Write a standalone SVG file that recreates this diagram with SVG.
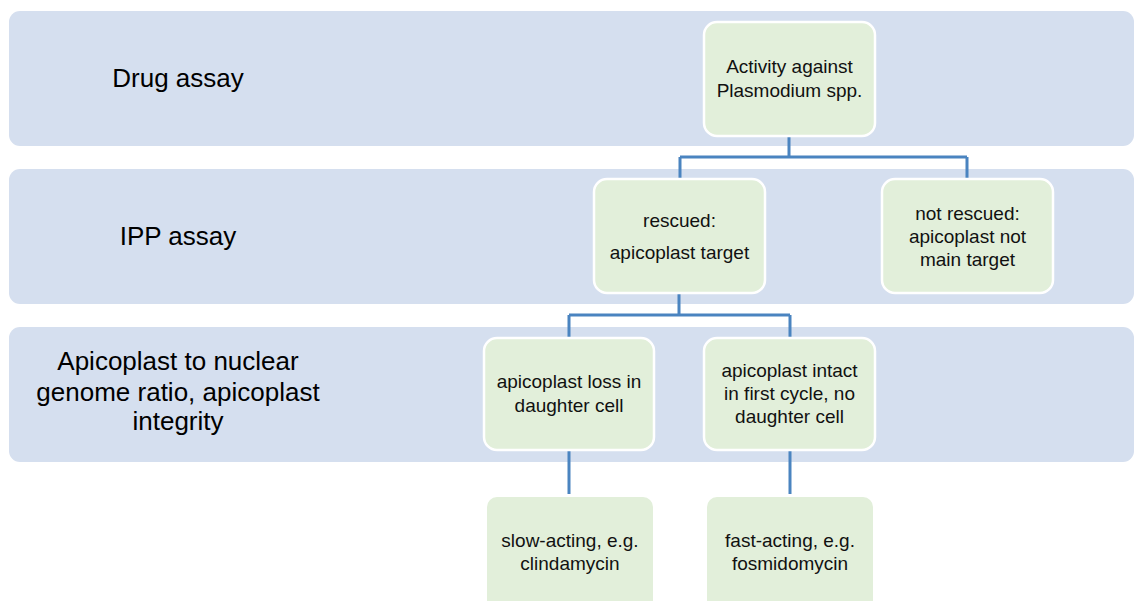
<svg xmlns="http://www.w3.org/2000/svg" width="1135" height="601" viewBox="0 0 1135 601">
<style>
.band{fill:#D5DFEF}
.node{fill:#E2EFDA;stroke:#FFFFFF;stroke-width:2.5}
.leaf{fill:#E2EFDA}
.lbl{font-family:"Liberation Sans",Arial,sans-serif;font-size:26px;fill:#000;text-anchor:middle}
.t{font-family:"Liberation Sans",Arial,sans-serif;font-size:19px;fill:#111;text-anchor:middle}
.c{fill:none;stroke:#4A84C0;stroke-width:3}
</style>
<rect width="1135" height="601" fill="#FFFFFF"/>
<g id="band-drug"><rect class="band" x="9" y="11" width="1125" height="135" rx="11"/><text class="lbl" x="178" y="87">Drug assay</text></g>
<g id="band-ipp"><rect class="band" x="9" y="169" width="1125" height="135" rx="11"/><text class="lbl" x="178" y="245">IPP assay</text></g>
<g id="band-ratio"><rect class="band" x="9" y="327" width="1125" height="135" rx="11"/>
<text class="lbl" x="178" y="370">Apicoplast to nuclear</text>
<text class="lbl" x="178" y="401">genome ratio, apicoplast</text>
<text class="lbl" x="178" y="430">integrity</text></g>
<g id="connectors">
<path class="c" d="M789 136V157M680 157H967M680 157V179M967 157V179"/>
<path class="c" d="M679 293V315M569 315H790M569 315V338M790 315V338"/>
<path class="c" d="M569 450V494M790 450V494"/>
</g>
<g id="n-activity"><rect class="node" x="704" y="22" width="171" height="114" rx="13"/><text class="t" x="789.5" y="73">Activity against</text><text class="t" x="789.5" y="97">Plasmodium spp.</text></g>
<g id="n-rescued"><rect class="node" x="594" y="179" width="171" height="114" rx="13"/><text class="t" x="679.5" y="227">rescued:</text><text class="t" x="679.5" y="259">apicoplast target</text></g>
<g id="n-notrescued"><rect class="node" x="882" y="179" width="171" height="114" rx="13"/><text class="t" x="967.5" y="220">not rescued:</text><text class="t" x="967.5" y="243">apicoplast not</text><text class="t" x="967.5" y="266">main target</text></g>
<g id="n-loss"><rect class="node" x="484" y="338" width="170" height="112" rx="13"/><text class="t" x="569" y="388">apicoplast loss in</text><text class="t" x="569" y="412">daughter cell</text></g>
<g id="n-intact"><rect class="node" x="704" y="338" width="171" height="112" rx="13"/><text class="t" x="789.5" y="377">apicoplast intact</text><text class="t" x="789.5" y="400">in first cycle, no</text><text class="t" x="789.5" y="423">daughter cell</text></g>
<g id="n-slow"><rect class="leaf" x="487" y="497" width="166" height="130" rx="10"/><text class="t" x="570" y="547">slow-acting, e.g.</text><text class="t" x="570" y="570">clindamycin</text></g>
<g id="n-fast"><rect class="leaf" x="707" y="497" width="166" height="130" rx="10"/><text class="t" x="790" y="547">fast-acting, e.g.</text><text class="t" x="790" y="570">fosmidomycin</text></g>
</svg>
